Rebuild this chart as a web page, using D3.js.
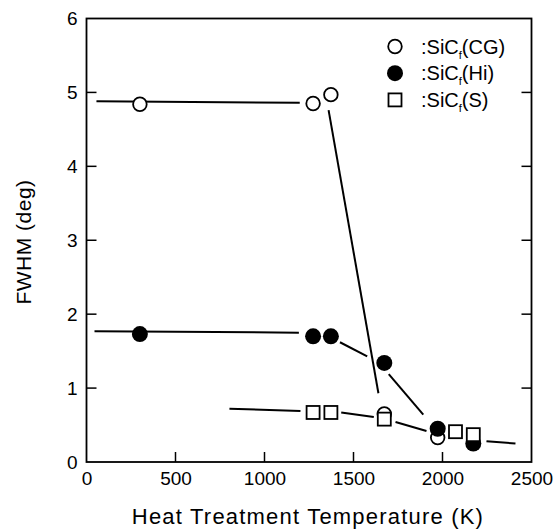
<!DOCTYPE html>
<html>
<head>
<meta charset="utf-8">
<script src="https://cdn.jsdelivr.net/npm/d3@7"></script>
<style>
body{margin:0;background:#fff}
text{font-family:"Liberation Sans",Arial,Helvetica,sans-serif;fill:#000}
</style>
</head>
<body>
<div class="chart"></div>
<script>
// heat treatment temperature (K) and FWHM (deg) for each fibre
const tempCG = [300, 1273, 1373, 1673, 1973];
const fwhmCG = [4.84, 4.85, 4.97, 0.65, 0.33];
const tempHi = [300, 1273, 1373, 1673, 1973, 2173];
const fwhmHi = [1.73, 1.70, 1.70, 1.34, 0.45, 0.25];
const tempS = [1273, 1373, 1673, 2073, 2173];
const fwhmS = [0.67, 0.67, 0.58, 0.41, 0.37];

// guide line segments, [T1, v1, T2, v2]
const linesCG = [[56, 4.88, 1198, 4.86], [1360, 4.76, 1640, 0.93]];
const linesHi = [[45, 1.77, 1193, 1.75], [1424, 1.62, 1577, 1.43], [1698, 1.19, 1892, 0.64]];
const linesS = [[803, 0.72, 1202, 0.69], [1431, 0.67, 1614, 0.61], [1736, 0.54, 1910, 0.42], [2247, 0.28, 2410, 0.25]];

const xTicks = [0, 500, 1000, 1500, 2000, 2500];
const yTicks = [0, 1, 2, 3, 4, 5, 6];
const legendNames = ["CG", "Hi", "S"];

const svg = d3.select(".chart").append("svg")
    .attr("width", 557)
    .attr("height", 532);

const x = d3.scaleLinear().domain([0, 2500]).range([86.5, 531.5]);
const y = d3.scaleLinear().domain([0, 6]).range([462, 18.5]);

// axes
const xAxis = d3.axisBottom(x).tickValues(xTicks).tickFormat(d => d).tickSize(0).tickPadding(10);
svg.append("g").attr("class", "xaxis").attr("transform", "translate(0,462)").call(xAxis);
const yAxis = d3.axisLeft(y).tickValues(yTicks).tickFormat(d => d).tickSize(0).tickPadding(9);
svg.append("g").attr("class", "yaxis").attr("transform", "translate(86.5,0)").call(yAxis);
svg.selectAll(".xaxis path,.yaxis path").remove();
svg.selectAll(".tick text").attr("font-size", 19).style("font-family", "Liberation Sans, Arial, sans-serif");

// inward ticks
const tk = svg.append("g").attr("stroke", "#000").attr("stroke-width", 1.5);
tk.selectAll(".bt").data(xTicks.slice(1, -1)).enter().append("line")
    .attr("x1", d => x(d)).attr("x2", d => x(d)).attr("y1", 462).attr("y2", 452);
tk.selectAll(".lt").data(yTicks.slice(1, -1)).enter().append("line")
    .attr("x1", 86.5).attr("x2", 96.5).attr("y1", d => y(d)).attr("y2", d => y(d));
tk.selectAll(".rt").data(yTicks.slice(1, -1)).enter().append("line")
    .attr("x1", 531.5).attr("x2", 521.5).attr("y1", d => y(d)).attr("y2", d => y(d));

// frame
svg.append("rect")
    .attr("x", x(0)).attr("y", y(6))
    .attr("width", x(2500) - x(0)).attr("height", y(0) - y(6))
    .attr("fill", "none").attr("stroke", "#000").attr("stroke-width", 1.8);

// guide lines
const allLines = linesCG.concat(linesHi, linesS);
svg.append("g").selectAll("line").data(allLines).enter().append("line")
    .attr("x1", d => x(d[0])).attr("y1", d => y(d[1]))
    .attr("x2", d => x(d[2])).attr("y2", d => y(d[3]))
    .attr("stroke", "#000").attr("stroke-width", 2);

// markers
function pts(t, v) { return t.map((d, i) => [d, v[i]]); }
svg.append("g").selectAll("circle").data(pts(tempCG, fwhmCG)).enter().append("circle")
    .attr("cx", d => x(d[0])).attr("cy", d => y(d[1])).attr("r", 6.8)
    .attr("fill", "#fff").attr("stroke", "#000").attr("stroke-width", 1.8);
svg.append("g").selectAll("circle").data(pts(tempHi, fwhmHi)).enter().append("circle")
    .attr("cx", d => x(d[0])).attr("cy", d => y(d[1])).attr("r", 8)
    .attr("fill", "#000");
svg.append("g").selectAll("rect").data(pts(tempS, fwhmS)).enter().append("rect")
    .attr("x", d => x(d[0]) - 6.5).attr("y", d => y(d[1]) - 6.5)
    .attr("width", 13).attr("height", 13)
    .attr("fill", "#fff").attr("stroke", "#000").attr("stroke-width", 1.8);

// legend
const lg = svg.append("g").attr("transform", "translate(395,46.5)");
legendNames.forEach((n, i) => {
    const row = lg.append("g").attr("transform", `translate(0,${i * 26.7})`);
    if (i == 0) row.append("circle").attr("r", 6.8).attr("fill", "#fff").attr("stroke", "#000").attr("stroke-width", 1.8);
    if (i == 1) row.append("circle").attr("r", 8).attr("fill", "#000");
    if (i == 2) row.append("rect").attr("x", -6.5).attr("y", -6.5).attr("width", 13).attr("height", 13)
        .attr("fill", "#fff").attr("stroke", "#000").attr("stroke-width", 1.8);
    const t = row.append("text").attr("x", 26).attr("y", 7).attr("font-size", 20);
    t.append("tspan").text(":SiC");
    t.append("tspan").attr("font-size", 11).attr("dy", 5).text("f");
    t.append("tspan").attr("dy", -5).text("(" + n + ")");
});

// axis titles
svg.append("text")
    .attr("x", 308).attr("y", 524)
    .attr("text-anchor", "middle").attr("font-size", 22).attr("letter-spacing", 1.2)
    .text("Heat Treatment Temperature (K)");
svg.append("text")
    .attr("transform", "translate(31,242) rotate(-90)")
    .attr("text-anchor", "middle").attr("font-size", 21).attr("letter-spacing", 0.5)
    .text("FWHM (deg)");
</script>
</body>
</html>
